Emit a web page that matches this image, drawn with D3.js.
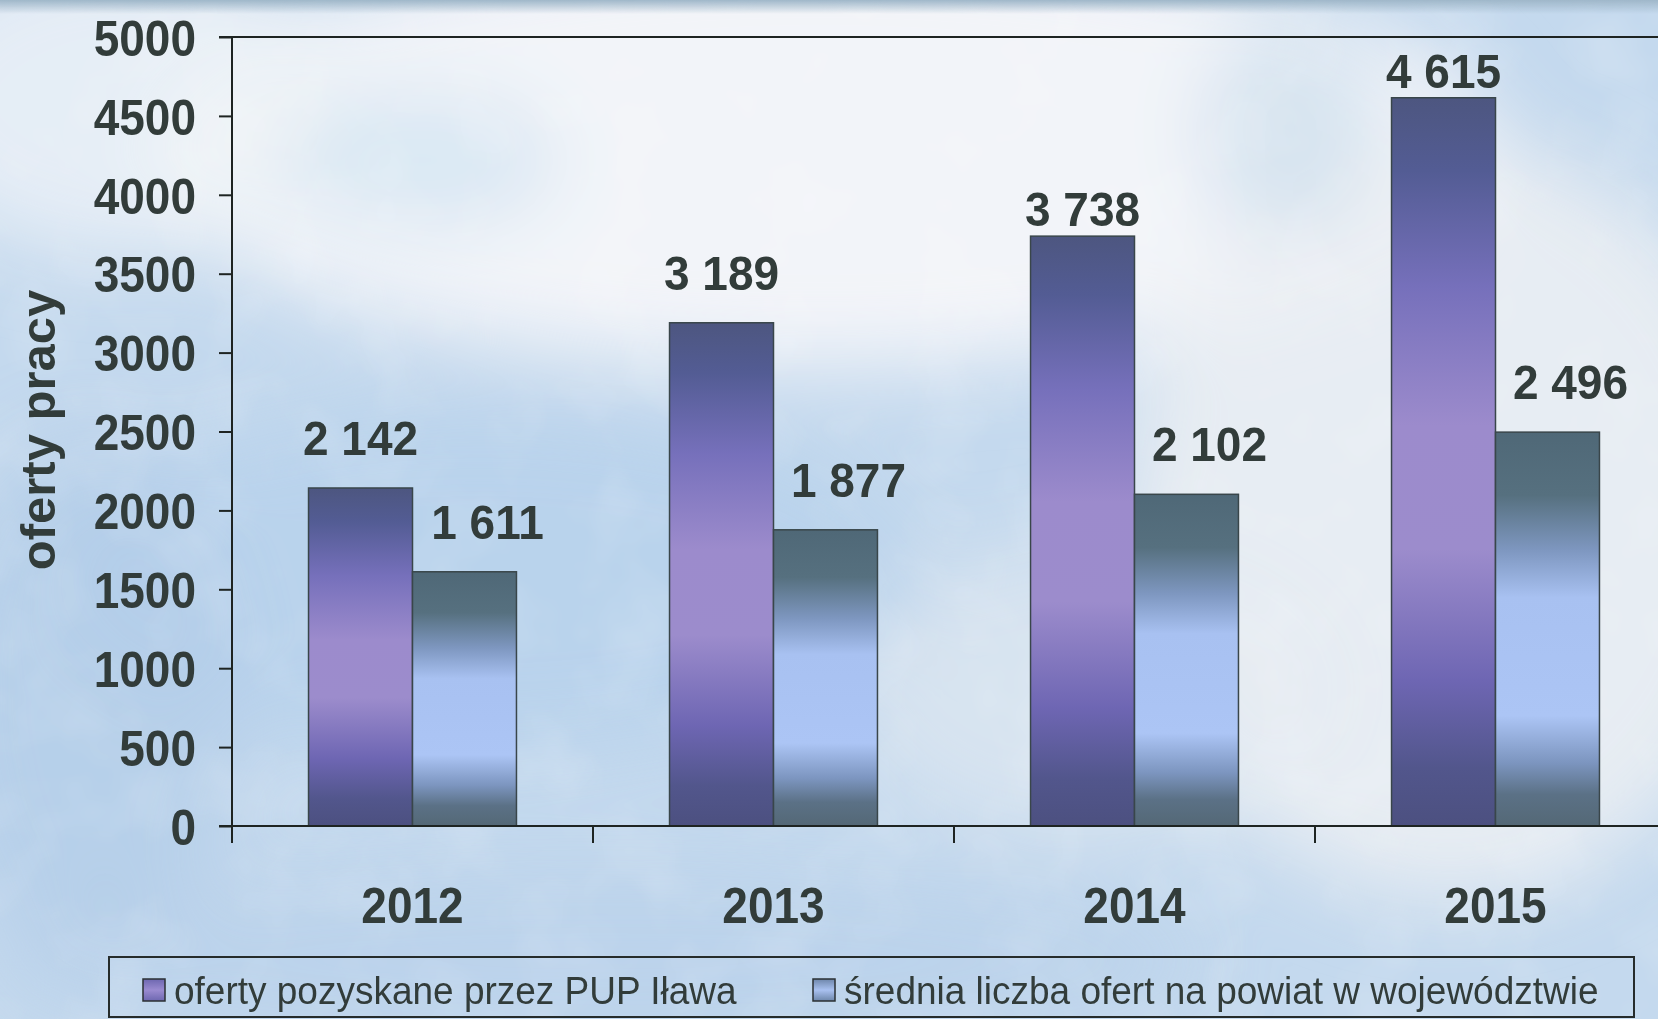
<!DOCTYPE html>
<html><head><meta charset="utf-8">
<script src="https://cdn.jsdelivr.net/npm/d3@7"></script>
<style>
html,body{margin:0;padding:0;background:#c8dcef;overflow:hidden}
svg{display:block}
text{font-family:"Liberation Sans",Arial,sans-serif;fill:#323c3a}
</style></head>
<body>
<svg id="chart" width="1658" height="1019"></svg>
<script>
// ---- data ----
const categories = ["2012", "2013", "2014", "2015"];
const seriesNames = ["oferty pozyskane przez PUP Iława", "średnia liczba ofert na powiat w województwie"];
const pupValues = [2142, 3189, 3738, 4615];
const avgValues = [1611, 1877, 2102, 2496];
const yTicks = [0, 500, 1000, 1500, 2000, 2500, 3000, 3500, 4000, 4500, 5000];
const yTitle = "oferty pracy";

const W = 1658, H = 1019;
const svg = d3.select("#chart");
const defs = svg.append("defs");

// ---- background (light sky) ----
const blur = defs.append("filter").attr("id","blur").attr("x","-50%").attr("y","-50%").attr("width","200%").attr("height","200%");
blur.append("feGaussianBlur").attr("stdDeviation", 40);
const noise = defs.append("filter").attr("id","noise");
noise.append("feTurbulence").attr("type","fractalNoise").attr("baseFrequency",0.012).attr("numOctaves",3).attr("seed",4);
noise.append("feColorMatrix").attr("type","matrix")
  .attr("values","0 0 0 0 1  0 0 0 0 1  0 0 0 0 1  0 0 0 1.1 -0.45");

svg.append("rect").attr("width",W).attr("height",H).attr("fill","#c4d9ee");
const bg = svg.append("g").attr("filter","url(#blur)");
bg.append("ellipse").attr("cx",820).attr("cy",150).attr("rx",680).attr("ry",220).attr("fill","#f4f6f9").attr("opacity",0.95);
bg.append("ellipse").attr("cx",1450).attr("cy",520).attr("rx",330).attr("ry",380).attr("fill","#edf0f3").attr("opacity",0.85);
bg.append("ellipse").attr("cx",120).attr("cy",100).attr("rx",230).attr("ry",160).attr("fill","#eef3f7").attr("opacity",0.8);
bg.append("ellipse").attr("cx",1100).attr("cy",690).attr("rx",250).attr("ry",150).attr("fill","#e4ebf2").attr("opacity",0.6);
bg.append("ellipse").attr("cx",480).attr("cy",580).attr("rx",430).attr("ry",170).attr("fill","#b6d0eb").attr("opacity",0.75);
bg.append("ellipse").attr("cx",90).attr("cy",700).attr("rx",150).attr("ry",260).attr("fill","#b3cde8").attr("opacity",0.8);
bg.append("ellipse").attr("cx",600).attr("cy",960).attr("rx",600).attr("ry",90).attr("fill","#b8d0ea").attr("opacity",0.7);
bg.append("ellipse").attr("cx",420).attr("cy",160).attr("rx",140).attr("ry",70).attr("fill","#cfe1f1").attr("opacity",0.7);
bg.append("ellipse").attr("cx",1290).attr("cy",130).attr("rx",90).attr("ry",110).attr("fill","#cfe0ef").attr("opacity",0.8);
svg.append("rect").attr("width",W).attr("height",H).attr("filter","url(#noise)").attr("opacity",0.3);
// dark strip at the very top
const topGrad = defs.append("linearGradient").attr("id","topStrip").attr("x1",0).attr("y1",0).attr("x2",0).attr("y2",1);
topGrad.append("stop").attr("offset","0%").attr("stop-color","#9fb7c9");
topGrad.append("stop").attr("offset","100%").attr("stop-color","#9fb7c9").attr("stop-opacity",0);
svg.append("rect").attr("width",W).attr("height",14).attr("fill","url(#topStrip)");

// ---- gradients for bars ----
function vGrad(id, stops){
  const g = defs.append("linearGradient").attr("id",id).attr("x1",0).attr("y1",0).attr("x2",0).attr("y2",1);
  stops.forEach(s => g.append("stop").attr("offset",s[0]).attr("stop-color",s[1]));
}
vGrad("g1", [["0%","#4d5680"],["10%","#535c94"],["26%","#7670bb"],["45%","#9c8bcc"],["62%","#9c8ccc"],["80%","#6e66b3"],["92%","#52568c"],["100%","#4c5080"]]);
vGrad("g2", [["0%","#4f6877"],["16%","#56707f"],["30%","#7e97c0"],["42%","#a8c1f1"],["72%","#acc5f5"],["84%","#7c95bf"],["92%","#5b7186"],["100%","#546876"]]);
const sw1 = defs.append("linearGradient").attr("id","sw1").attr("x1",0).attr("y1",0).attr("x2",0).attr("y2",1);
sw1.append("stop").attr("offset","0%").attr("stop-color","#6d67b0");
sw1.append("stop").attr("offset","50%").attr("stop-color","#9a8bd0");
sw1.append("stop").attr("offset","100%").attr("stop-color","#6d67b0");
const sw2 = defs.append("linearGradient").attr("id","sw2").attr("x1",0).attr("y1",0).attr("x2",0).attr("y2",1);
sw2.append("stop").attr("offset","0%").attr("stop-color","#6d86aa");
sw2.append("stop").attr("offset","50%").attr("stop-color","#a9c1f0");
sw2.append("stop").attr("offset","100%").attr("stop-color","#6d86aa");

// ---- scales ----
const plotLeft = 232, plotRight = 1676, plotTop = 37, plotBottom = 826;
const y = d3.scaleLinear().domain([0, 5000]).range([plotBottom, plotTop]);
const x0 = d3.scaleBand().domain(categories).range([plotLeft, plotRight]).paddingInner(0.424).paddingOuter(0.212);
const x1 = d3.scaleBand().domain([0,1]).range([0, x0.bandwidth()]);
const axisColor = "#1e2422";
const stretch = 1.1;

// top border of plot area
svg.append("line").attr("x1",219).attr("x2",W).attr("y1",y(5000)).attr("y2",y(5000))
  .attr("stroke",axisColor).attr("stroke-width",2);

// ---- bars ----
const data = categories.map((c,i)=>({cat:c, vals:[pupValues[i], avgValues[i]]}));
const groups = svg.append("g").selectAll("g").data(data).join("g")
  .attr("transform", d => `translate(${x0(d.cat)},0)`);
groups.selectAll("rect").data(d => d.vals.map((v,k)=>({v,k}))).join("rect")
  .attr("x", d => x1(d.k))
  .attr("width", x1.bandwidth())
  .attr("y", d => y(d.v))
  .attr("height", d => y(0) - y(d.v))
  .attr("fill", d => d.k===0 ? "url(#g1)" : "url(#g2)")
  .attr("stroke", "#39464a").attr("stroke-width", 1.5);

// value labels
const fmt = v => d3.format(",")(v).replace(/,/g, " ");
const labelGap = v => (v > 3500 ? 10 : 33);
groups.selectAll("text.val").data(d => d.vals.map((v,k)=>({v,k}))).join("text")
  .attr("class","val")
  .attr("transform", d => `translate(${x1(d.k) + x1.bandwidth()/2 + (d.k===1 ? 23 : 0)},${y(d.v) - labelGap(d.v)}) scale(1,1.04)`)
  .attr("text-anchor","middle")
  .attr("font-size", 46).attr("font-weight","bold")
  .text(d => fmt(d.v));

// ---- y axis ----
const yAxis = svg.append("g").attr("transform",`translate(${plotLeft},0)`)
  .call(d3.axisLeft(y).tickValues(yTicks).tickSize(13).tickPadding(23).tickSizeOuter(0).tickFormat(d3.format("d")));
yAxis.select(".domain").remove();
yAxis.selectAll(".tick line").attr("stroke",axisColor).attr("stroke-width",2);
yAxis.selectAll(".tick text").attr("font-size",46).attr("font-weight","bold")
  .attr("fill","#323c3a").attr("font-family","Liberation Sans, Arial, sans-serif").attr("dy","0.36em")
  .attr("transform",`scale(1,${stretch})`);
svg.append("line").attr("x1",plotLeft).attr("x2",plotLeft).attr("y1",plotTop).attr("y2",plotBottom+17)
  .attr("stroke",axisColor).attr("stroke-width",2);

// ---- x axis ----
svg.append("line").attr("x1",219).attr("x2",W).attr("y1",plotBottom).attr("y2",plotBottom)
  .attr("stroke",axisColor).attr("stroke-width",2);
const bounds = categories.map(c => x0(c) - x0.paddingOuter()*x0.step());
svg.append("g").selectAll("line").data(bounds).join("line")
  .attr("x1", d=>d).attr("x2", d=>d).attr("y1",plotBottom).attr("y2",plotBottom+17)
  .attr("stroke",axisColor).attr("stroke-width",2);
const xAxis = svg.append("g").attr("transform",`translate(0,${plotBottom})`)
  .call(d3.axisBottom(x0).tickSize(0).tickPadding(0));
xAxis.select(".domain").remove();
xAxis.selectAll(".tick text").attr("y", 97/stretch).attr("dy", 0)
  .attr("transform",`scale(1,${stretch})`)
  .attr("font-size",46).attr("font-weight","bold").attr("fill","#323c3a")
  .attr("font-family","Liberation Sans, Arial, sans-serif");

// ---- y title ----
svg.append("text").attr("transform","translate(55,430) rotate(-90)")
  .attr("text-anchor","middle").attr("font-size",49).attr("font-weight","bold")
  .text(yTitle);

// ---- legend ----
const legend = svg.append("g");
legend.append("rect").attr("x",109).attr("y",957).attr("width",1525).attr("height",60)
  .attr("fill","none").attr("stroke","#262c2b").attr("stroke-width",2);
const legendItems = [{name:seriesNames[0], fill:"url(#sw1)", x:143}, {name:seriesNames[1], fill:"url(#sw2)", x:813}];
const li = legend.selectAll("g.item").data(legendItems).join("g").attr("class","item")
  .attr("transform", d => `translate(${d.x},979)`);
li.append("rect").attr("width",22).attr("height",22).attr("fill",d=>d.fill)
  .attr("stroke","#2b3133").attr("stroke-width",1.5);
li.append("text").attr("x",31).attr("y",24)
  .attr("transform","scale(1,1.04)")
  .attr("font-size",37).text(d => d.name);
</script>
</body></html>
